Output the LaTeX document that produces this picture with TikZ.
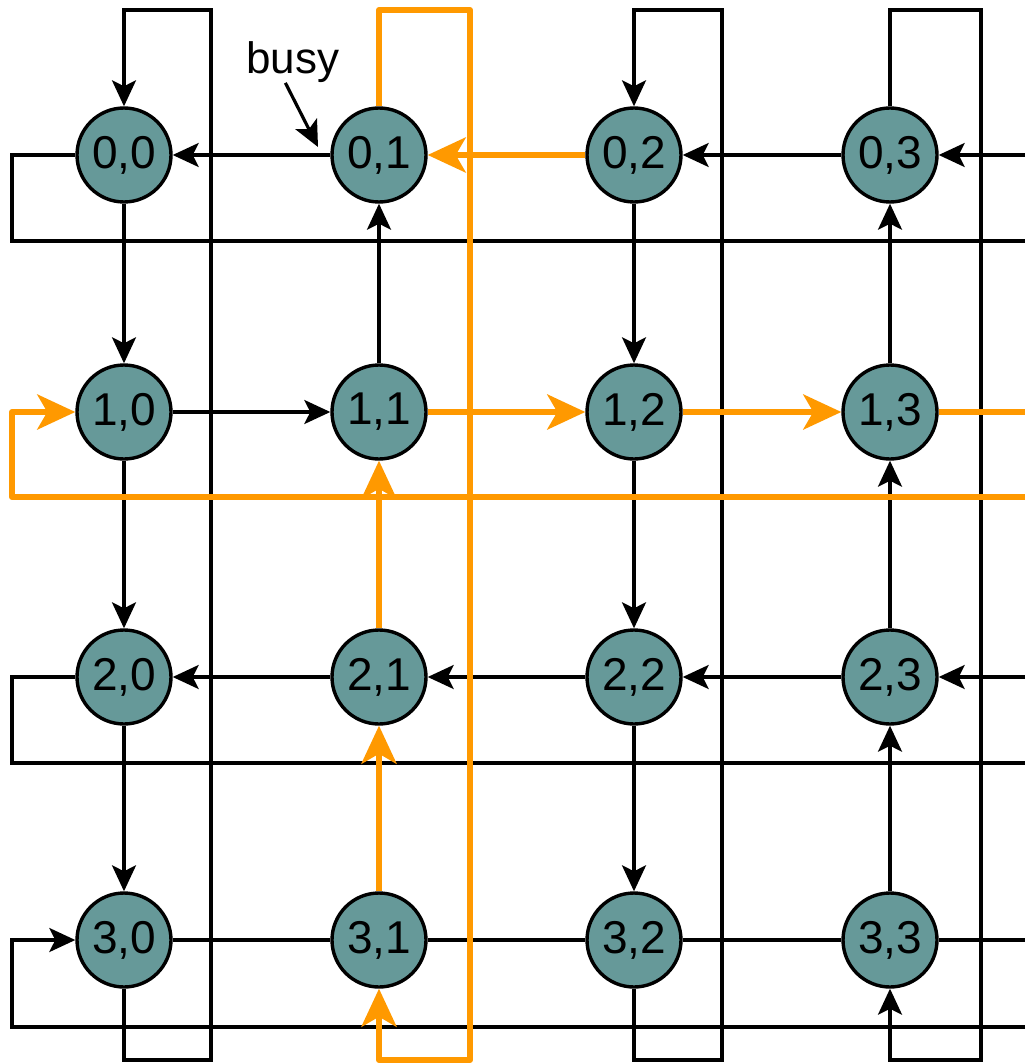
\documentclass[tikz,border=0pt]{standalone}
\usepackage{fontspec}
\setmainfont{Liberation Sans}
\usetikzlibrary{arrows.meta}

\begin{document}
\begin{tikzpicture}
% 4x4 torus, one pixel of the sketch per unit
\def\pxsz{0.5pt}
\definecolor{torusNode}{RGB}{102,153,153}
\definecolor{torusBusy}{RGB}{255,153,0}
\providecommand{\torusLinkWidth}{1.6pt}
\providecommand{\torusBusyWidth}{3pt}
\begin{scope}[x=\pxsz, y=-\pxsz,
  router/.style={circle, draw=black, line width=1.7pt, fill=torusNode,
    minimum size=47pt, inner sep=0pt, font=\fontsize{23pt}{27pt}\selectfont},
  link/.style={draw=black, line width=\torusLinkWidth, line join=miter},
  busylink/.style={draw=torusBusy, line width=\torusBusyWidth, line join=round},
  tip/.style={-{Stealth[length=13pt, width=12pt, inset=3pt]}},
  busytip/.style={-{Stealth[length=19pt, width=17.5pt, inset=5pt]}}]
  \useasboundingbox (0,0) rectangle (1025,1064);
  % Wrap-around rails
  \coordinate (ledge) at (12,0);
  \coordinate (redge) at (1025,0);
  \coordinate (tedge) at (0,10);
  \coordinate (bedge) at (0,1060);
  \coordinate (wv0) at (211,0);
  \coordinate (wv1) at (470,0);
  \coordinate (wv2) at (722,0);
  \coordinate (wv3) at (981,0);
  \coordinate (wh0) at (0,241);
  \coordinate (wh1) at (0,497);
  \coordinate (wh2) at (0,763);
  \coordinate (wh3) at (0,1027);
  % Routers
  \node[router] (n00) at (124,155) {0,0};
  \node[router] (n01) at (379,155) {0,1};
  \node[router] (n02) at (634,155) {0,2};
  \node[router] (n03) at (890,155) {0,3};
  \node[router] (n10) at (124,412) {1,0};
  \node[router] (n11) at (379,412) {1,1};
  \node[router] (n12) at (634,412) {1,2};
  \node[router] (n13) at (890,412) {1,3};
  \node[router] (n20) at (124,677) {2,0};
  \node[router] (n21) at (379,677) {2,1};
  \node[router] (n22) at (634,677) {2,2};
  \node[router] (n23) at (890,677) {2,3};
  \node[router] (n30) at (124,940) {3,0};
  \node[router] (n31) at (379,940) {3,1};
  \node[router] (n32) at (634,940) {3,2};
  \node[router] (n33) at (890,940) {3,3};
  % Busy label
  \node[font=\fontsize{22pt}{26pt}\selectfont, inner sep=0pt] (busy) at (293,62) {busy};
  \coordinate (busytip) at (318,147);
  \draw[link, tip] (busy.250) -- (busytip);
  % Row links
  \begin{scope}[link]
    \draw[tip] (n01) -- (n00);
    \draw[tip] (n03) -- (n02);
    \draw[tip] (n03 -| redge) -- (n03);
    \draw (n00.west) -- (n00 -| ledge) -- (ledge |- wh0) -- (redge |- wh0);
    \draw[tip] (n10) -- (n11);
    \draw[tip] (n21) -- (n20);
    \draw[tip] (n22) -- (n21);
    \draw[tip] (n23) -- (n22);
    \draw[tip] (n23 -| redge) -- (n23);
    \draw (n20.west) -- (n20 -| ledge) -- (ledge |- wh2) -- (redge |- wh2);
    \draw (n30) -- (n31);
    \draw (n31) -- (n32);
    \draw (n32) -- (n33);
    \draw (n33.east) -- (n33 -| redge);
    \draw[tip] (redge |- wh3) -- (ledge |- wh3) -- (n30 -| ledge) -- (n30.west);
  \end{scope}
  % Column links
  \begin{scope}[link]
    \draw[tip] (n00) -- (n10);
    \draw[tip] (n10) -- (n20);
    \draw[tip] (n20) -- (n30);
    \draw[tip] (n30.south) -- (n30 |- bedge) -- (wv0 |- bedge) -- (wv0 |- tedge) -- (n00 |- tedge) -- (n00.north);
    \draw[tip] (n11) -- (n01);
    \draw[tip] (n02) -- (n12);
    \draw[tip] (n12) -- (n22);
    \draw[tip] (n22) -- (n32);
    \draw[tip] (n32.south) -- (n32 |- bedge) -- (wv2 |- bedge) -- (wv2 |- tedge) -- (n02 |- tedge) -- (n02.north);
    \draw[tip] (n33) -- (n23);
    \draw[tip] (n23) -- (n13);
    \draw[tip] (n13) -- (n03);
    \draw[tip] (n03.north) -- (n03 |- tedge) -- (wv3 |- tedge) -- (wv3 |- bedge) -- (n33 |- bedge) -- (n33.south);
  \end{scope}
  % Busy path
  \begin{scope}[busylink]
    \draw[busytip] (n02) -- (n01);
    \draw[busytip] (n11) -- (n12);
    \draw[busytip] (n12) -- (n13);
    \draw (n13.east) -- (n13 -| redge);
    \draw[busytip] (redge |- wh1) -- (ledge |- wh1) -- (n10 -| ledge) -- (n10.west);
    \draw[busytip] (n31) -- (n21);
    \draw[busytip] (n21) -- (n11);
    \draw[busytip] (n01.north) -- (n01 |- tedge) -- (wv1 |- tedge) -- (wv1 |- bedge) -- (n31 |- bedge) -- (n31.south);
  \end{scope}
\end{scope}
\end{tikzpicture}
\end{document}
